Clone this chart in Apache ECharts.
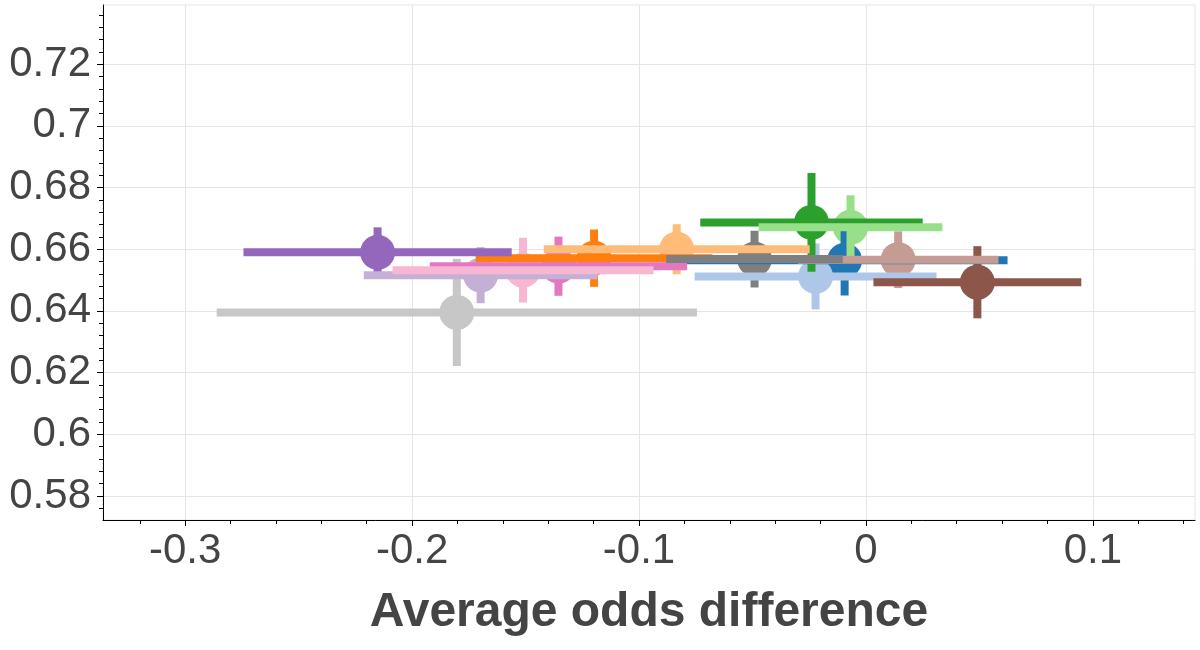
<!DOCTYPE html>
<html>
<head>
  <meta charset="utf-8">
  <title>Average odds difference</title>
  <script src="https://cdn.jsdelivr.net/npm/echarts@6/dist/echarts.min.js"></script>
</head>
<body style="margin:0;background:#fff">
<div id="main" style="width:1200px;height:650px"></div>
<script type="text/javascript">
  // one entry per model, Category20 order (the red pair is not in the picture)
  var colors = ['#1f77b4', '#aec7e8', '#ff7f0e', '#ffbb78', '#2ca02c', '#98df8a',
                '#9467bd', '#c5b0d5', '#8c564b', '#c49c94', '#e377c2', '#f7b6d2',
                '#7f7f7f', '#c7c7c7'];
  var xMean = [-0.0094, -0.0222, -0.1198, -0.0834, -0.0240, -0.0068,
               -0.2152, -0.1698, 0.0491, 0.0142, -0.1355, -0.1511,
               -0.0491, -0.1803];
  var xErr = [0.0718, 0.0533, 0.0522, 0.0586, 0.0490, 0.0405,
              0.0591, 0.0515, 0.0458, 0.0442, 0.0567, 0.0575,
              0.0389, 0.1058];
  var yMean = [0.6564, 0.6512, 0.6571, 0.6600, 0.6687, 0.6671,
               0.6590, 0.6516, 0.6493, 0.6566, 0.6545, 0.6532,
               0.6568, 0.6395];
  var yErr = [0.0114, 0.0107, 0.0093, 0.0081, 0.0160, 0.0104,
              0.0081, 0.0091, 0.0117, 0.0092, 0.0096, 0.0105,
              0.0092, 0.0174];
  var xTicks = [-0.3, -0.2, -0.1, 0, 0.1];
  var yTicks = [0.58, 0.6, 0.62, 0.64, 0.66, 0.68, 0.7, 0.72];
  var xMin = -0.3362, xMax = 0.145;
  var yMin = 0.5722, yMax = 0.7392;

  // minor ticks: 5 per major step
  function minorTicks(major, lo, hi) {
    var step = (major[1] - major[0]) / 5, out = [];
    var start = Math.ceil(lo / step), end = Math.floor(hi / step);
    for (var k = start; k <= end; k++) {
      if (k % 5 !== 0) out.push(+(k * step).toFixed(6));
    }
    return out;
  }

  var rows = xMean.map(function (x, i) { return [x, yMean[i], xErr[i], yErr[i]]; });

  var textColor = '#444444';
  var font = 'Liberation Sans';

  function dotItem(params, api) {
    var p = api.coord([api.value(0), api.value(1)]);
    return { type: 'circle', shape: { cx: p[0], cy: p[1], r: 17.5 },
             style: { fill: colors[params.dataIndex] } };
  }
  function vBarItem(params, api) {
    var a = api.coord([api.value(0), api.value(1) + api.value(3)]);
    var b = api.coord([api.value(0), api.value(1) - api.value(3)]);
    return { type: 'line', shape: { x1: a[0], y1: a[1], x2: b[0], y2: b[1] },
             style: { stroke: colors[params.dataIndex], lineWidth: 8 } };
  }
  function hBarItem(params, api) {
    var a = api.coord([api.value(0) - api.value(2), api.value(1)]);
    var b = api.coord([api.value(0) + api.value(2), api.value(1)]);
    return { type: 'line', shape: { x1: a[0], y1: a[1], x2: b[0], y2: b[1] },
             style: { stroke: colors[params.dataIndex], lineWidth: 8 } };
  }

  var myChart = echarts.init(document.getElementById('main'));
  var option = {
    animation: false,
    backgroundColor: '#fff',
    grid: { left: 103, right: 5, top: 5, bottom: 130, show: true,
            borderColor: '#e5e5e5', borderWidth: 1 },
    xAxis: [{
      type: 'value', min: xMin, max: xMax, splitNumber: 5,
      name: 'Average odds difference', nameLocation: 'middle', nameGap: 69,
      nameTextStyle: { fontFamily: font, fontSize: 48, fontWeight: 'bold', color: textColor },
      axisLine: { onZero: false, lineStyle: { color: '#000', width: 1 } },
      axisTick: { customValues: xTicks, length: 6, lineStyle: { color: '#000' } },
      axisLabel: { customValues: xTicks, fontFamily: font, fontSize: 42, color: textColor, margin: 10 },
      splitLine: { show: true, lineStyle: { color: '#e5e5e5', width: 1 } }
    }, {
      type: 'value', min: xMin, max: xMax, position: 'bottom',
      axisLine: { show: false, onZero: false },
      axisTick: { customValues: minorTicks(xTicks, xMin, xMax), length: 4, lineStyle: { color: '#000' } },
      axisLabel: { show: false },
      splitLine: { show: false }
    }],
    yAxis: [{
      type: 'value', min: yMin, max: yMax, splitNumber: 8,
      axisLine: { show: true, onZero: false, lineStyle: { color: '#000', width: 1 } },
      axisTick: { show: true, customValues: yTicks, length: 6, lineStyle: { color: '#000' } },
      axisLabel: { customValues: yTicks, fontFamily: font, fontSize: 42, color: textColor, margin: 12 },
      splitLine: { show: true, lineStyle: { color: '#e5e5e5', width: 1 } }
    }, {
      type: 'value', min: yMin, max: yMax, position: 'left',
      axisLine: { show: false, onZero: false },
      axisTick: { show: true, customValues: minorTicks(yTicks, yMin, yMax), length: 4, lineStyle: { color: '#000' } },
      axisLabel: { show: false },
      splitLine: { show: false }
    }],
    series: [
      { type: 'custom', name: 'dots', renderItem: dotItem, data: rows, silent: true, z: 2 },
      { type: 'custom', name: 'y error', renderItem: vBarItem, data: rows, silent: true, z: 3 },
      { type: 'custom', name: 'x error', renderItem: hBarItem, data: rows, silent: true, z: 4 }
    ]
  };
  myChart.setOption(option);
</script>
</body>
</html>
